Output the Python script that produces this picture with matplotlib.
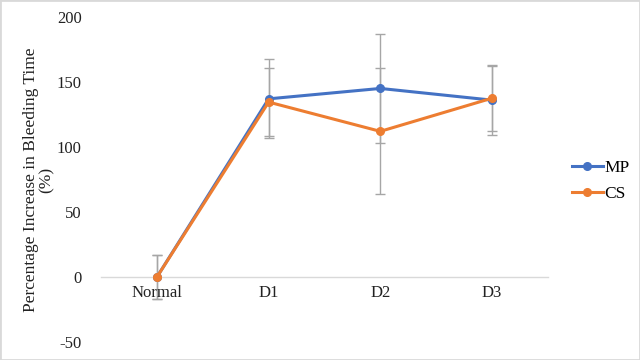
import matplotlib.pyplot as plt
from matplotlib.patches import Rectangle

# data
days = ['Normal', 'D1', 'D2', 'D3']
mp = [0, 137, 145, 136]
cs = [0, 134.5, 112, 137.5]
mp_err = [17, 30.5, 42, 27]
cs_err = [17, 26, 48.5, 25]
yticks = [-50, 0, 50, 100, 150, 200]

plt.rcParams['font.family'] = ['Liberation Serif', 'DejaVu Serif']
plt.rcParams['axes.unicode_minus'] = False

fig = plt.figure(figsize=(6.4, 3.6), dpi=100)
ax = fig.add_axes([0.158, 0.05, 0.698, 0.903])

x = list(range(len(days)))
ax.errorbar(x, mp, yerr=mp_err, fmt='none', ecolor='#a6a6a6', elinewidth=1,
            capsize=3.5, capthick=1, zorder=1)
ax.errorbar(x, cs, yerr=cs_err, fmt='none', ecolor='#a6a6a6', elinewidth=1,
            capsize=3.5, capthick=1, zorder=1)
ax.plot(x, mp, color='#4472c4', lw=2.2, marker='o', ms=5.5, label='MP', zorder=3)
ax.plot(x, cs, color='#ed7d31', lw=2.2, marker='o', ms=5.5, label='CS', zorder=4)

ax.set_xlim(-0.5, len(days) - 0.5)
ax.set_ylim(-50, 200)
ax.set_yticks(yticks)
ax.set_xticks(x)
ax.set_xticklabels(days)
ax.tick_params(axis='both', length=0, labelsize=12, colors='#222222')
ax.tick_params(axis='y', pad=14)
ax.tick_params(axis='x', pad=6)

for s in ['top', 'right', 'left']:
    ax.spines[s].set_visible(False)
ax.spines['bottom'].set_position(('data', 0))
ax.spines['bottom'].set_color('#d9d9d9')
ax.spines['bottom'].set_linewidth(1)

ax.set_ylabel('Percentage Increase in Bleeding Time\n(%)', fontsize=12.5,
              color='#222222', linespacing=0.95, labelpad=4)
ax.yaxis.set_label_coords(-0.105, 0.5)

ax.legend(loc='center left', bbox_to_anchor=(1.018, 0.495), frameon=False,
          fontsize=12.5, handlelength=1.8, handletextpad=0.1, labelspacing=0.6)

fig.patches.append(Rectangle((0, 0), 1, 1, transform=fig.transFigure,
                             fill=False, edgecolor='#d9d9d9', lw=2))

fig.savefig('out.png', dpi=100)
